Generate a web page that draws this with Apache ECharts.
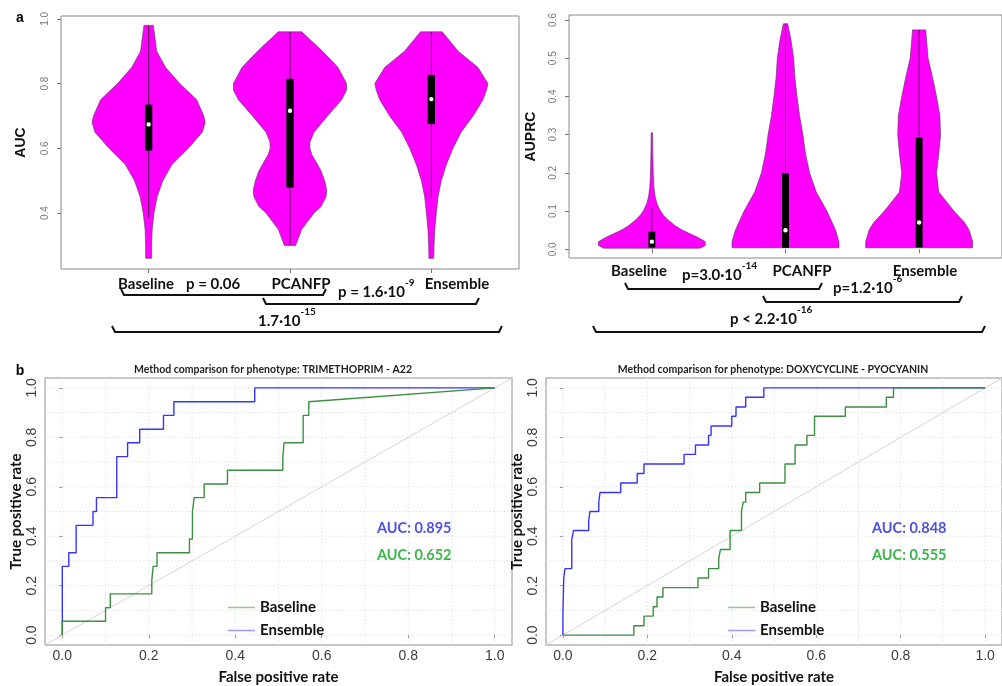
<!DOCTYPE html>
<html><head><meta charset="utf-8">
<script src="https://cdn.jsdelivr.net/npm/echarts@6/dist/echarts.min.js"></script>
<style>html,body{margin:0;padding:0;background:#fff}#c{width:1002px;height:686px}</style>
</head><body><div id="c"></div>
<script>
// ---------- DATA ----------
const categories = ['Baseline', 'PCANFP', 'Ensemble'];

// AUC violin profiles (value, half-width in category units)
const aucBaselineY  = [0.26,0.30,0.35,0.40,0.45,0.50,0.55,0.60,0.65,0.68,0.70,0.75,0.80,0.85,0.90,0.95,0.98];
const aucBaselineW  = [0.021,0.021,0.025,0.038,0.06,0.10,0.165,0.28,0.38,0.40,0.39,0.34,0.22,0.12,0.057,0.042,0.033];
const aucPcanfpY    = [0.30,0.35,0.40,0.42,0.45,0.47,0.50,0.53,0.55,0.58,0.60,0.62,0.65,0.70,0.75,0.78,0.80,0.85,0.90,0.96];
const aucPcanfpW    = [0.04,0.083,0.17,0.22,0.255,0.26,0.245,0.22,0.195,0.155,0.14,0.142,0.17,0.265,0.365,0.40,0.40,0.34,0.23,0.083];
const aucEnsembleY  = [0.26,0.30,0.35,0.40,0.45,0.50,0.55,0.60,0.65,0.70,0.75,0.78,0.80,0.85,0.90,0.96];
const aucEnsembleW  = [0.017,0.019,0.024,0.035,0.047,0.07,0.106,0.153,0.21,0.295,0.365,0.39,0.40,0.33,0.19,0.077];
const aucQ1 = [0.593, 0.479, 0.675];
const aucMedian = [0.674, 0.716, 0.752];
const aucQ3 = [0.735, 0.815, 0.827];
const aucWhiskerLow = [0.386, 0.30, 0.445];
const aucWhiskerHigh = [0.98, 0.96, 0.96];
const aucTicks = [0.4, 0.6, 0.8, 1.0];

// AUPRC violin profiles
const auprcBaselineY = [0.003,0.01,0.02,0.03,0.04,0.05,0.06,0.077,0.09,0.103,0.12,0.137,0.163,0.20,0.25,0.305];
const auprcBaselineW = [0.36,0.40,0.40,0.35,0.29,0.23,0.18,0.12,0.085,0.06,0.038,0.025,0.015,0.01,0.007,0.005];
const auprcPcanfpY   = [0.004,0.02,0.05,0.10,0.15,0.20,0.25,0.30,0.35,0.40,0.45,0.50,0.55,0.59];
const auprcPcanfpW   = [0.40,0.40,0.375,0.31,0.23,0.18,0.15,0.13,0.105,0.086,0.07,0.061,0.04,0.016];
const auprcEnsembleY = [0.004,0.02,0.05,0.07,0.10,0.15,0.20,0.25,0.30,0.35,0.40,0.45,0.50,0.574];
const auprcEnsembleW = [0.40,0.40,0.375,0.34,0.26,0.147,0.13,0.147,0.16,0.155,0.13,0.10,0.067,0.049];
const auprcQ1 = [0.005, 0.004, 0.005];
const auprcMedian = [0.02, 0.05, 0.07];
const auprcQ3 = [0.046, 0.199, 0.292];
const auprcWhiskerLow = [0.003, 0.004, 0.005];
const auprcWhiskerHigh = [0.11, 0.59, 0.574];
const auprcTicks = [0, 0.1, 0.2, 0.3, 0.4, 0.5, 0.6];

// ROC curves: TRIMETHOPRIM - A22
const rocAEnsembleFpr = [0,0,0.015,0.015,0.032,0.032,0.071,0.071,0.079,0.079,0.126,0.126,0.151,0.151,0.179,0.179,0.234,0.234,0.258,0.258,0.445,0.445,1];
const rocAEnsembleTpr = [0,0.278,0.278,0.333,0.333,0.444,0.444,0.5,0.5,0.556,0.556,0.722,0.722,0.778,0.778,0.833,0.833,0.889,0.889,0.944,0.944,1,1];
const rocABaselineFpr = [0,0,0.1,0.1,0.111,0.111,0.207,0.207,0.21,0.21,0.219,0.219,0.294,0.294,0.301,0.301,0.305,0.305,0.328,0.328,0.382,0.382,0.51,0.51,0.513,0.513,0.557,0.557,0.57,0.57,1];
const rocABaselineTpr = [0,0.056,0.056,0.111,0.111,0.167,0.167,0.222,0.222,0.278,0.278,0.333,0.333,0.389,0.389,0.5,0.5,0.556,0.556,0.611,0.611,0.667,0.667,0.722,0.722,0.778,0.778,0.889,0.889,0.944,1];
// ROC curves: DOXYCYCLINE - PYOCYANIN
const rocBEnsembleFpr = [0,0,0.002,0.002,0.005,0.005,0.021,0.021,0.025,0.025,0.061,0.061,0.064,0.064,0.085,0.085,0.088,0.088,0.137,0.137,0.176,0.176,0.192,0.192,0.287,0.287,0.314,0.314,0.345,0.345,0.351,0.351,0.4,0.4,0.41,0.41,0.433,0.433,0.476,0.476,1];
const rocBEnsembleTpr = [0,0.077,0.077,0.231,0.231,0.269,0.269,0.385,0.385,0.423,0.423,0.462,0.462,0.5,0.5,0.538,0.538,0.577,0.577,0.615,0.615,0.654,0.654,0.692,0.692,0.731,0.731,0.769,0.769,0.808,0.808,0.846,0.846,0.885,0.885,0.923,0.923,0.962,0.962,1,1];
const rocBBaselineFpr = [0,0.168,0.168,0.192,0.192,0.214,0.214,0.223,0.223,0.237,0.237,0.32,0.32,0.345,0.345,0.369,0.369,0.373,0.373,0.396,0.396,0.423,0.423,0.427,0.427,0.433,0.433,0.466,0.466,0.526,0.526,0.55,0.55,0.578,0.578,0.596,0.596,0.669,0.669,0.766,0.766,0.783,0.783,1];
const rocBBaselineTpr = [0,0,0.038,0.038,0.077,0.077,0.115,0.115,0.154,0.154,0.192,0.192,0.231,0.231,0.269,0.269,0.308,0.308,0.346,0.346,0.423,0.423,0.5,0.5,0.538,0.538,0.577,0.577,0.615,0.615,0.692,0.692,0.769,0.769,0.808,0.808,0.885,0.885,0.923,0.923,0.962,0.962,1,1];
const rocTicks = [0, 0.2, 0.4, 0.6, 0.8, 1.0];
const rocGridValues = [0,0.1,0.2,0.3,0.4,0.5,0.6,0.7,0.8,0.9,1.0];
const rocTitles = ['Method comparison for phenotype: TRIMETHOPRIM - A22', 'Method comparison for phenotype: DOXYCYCLINE - PYOCYANIN'];
const rocAucEnsemble = ['0.895', '0.848'];
const rocAucBaseline = ['0.652', '0.555'];

// ---------- HELPERS ----------
const zip = (a, b) => a.map((v, i) => [v, b[i]]);
const MAG = '#ff00ff';
const BLUE = '#3434ff', GREEN = '#3a8f40';

function violinSeries(gridIdx, profiles, q1, med, q3, wlo, whi) {
  return {
    type: 'custom', xAxisIndex: gridIdx, yAxisIndex: gridIdx, silent: true,
    data: categories.map((c, i) => [i + 1, med[i]]),
    renderItem: function (params, api) {
      const i = params.dataIndex, k = api.value(0);
      const p = profiles[i];
      const left = [], right = [];
      for (let j = 0; j < p.y.length; j++) {
        left.push(api.coord([k - p.w[j], p.y[j]]));
        right.unshift(api.coord([k + p.w[j], p.y[j]]));
      }
      const a = api.coord([k, wlo[i]]), b = api.coord([k, whi[i]]);
      const tl = api.coord([k - 0.026, q3[i]]), br = api.coord([k + 0.026, q1[i]]);
      const m = api.coord([k, med[i]]);
      return { type: 'group', children: [
        { type: 'polygon', shape: { points: left.concat(right) }, style: { fill: MAG, stroke: '#6a3a6a', lineWidth: 0.7 } },
        { type: 'line', shape: { x1: a[0], y1: a[1], x2: b[0], y2: b[1] }, style: { stroke: '#222', lineWidth: 0.8 } },
        { type: 'rect', shape: { x: tl[0], y: tl[1], width: br[0] - tl[0], height: br[1] - tl[1] }, style: { fill: '#000' } },
        { type: 'circle', shape: { cx: m[0], cy: m[1], r: 2.2 }, style: { fill: '#fff' } }
      ]};
    }
  };
}

// faint dotted grid lines at each value, drawn beneath the curves
function rocGridSeries(ax) {
  return {
    type: 'custom', xAxisIndex: ax, yAxisIndex: ax, silent: true, z: 0,
    data: rocGridValues.map(v => [v, v]),
    renderItem: function (params, api) {
      const v = api.value(0);
      const a = api.coord([v, -0.04]), b = api.coord([v, 1.04]);
      const c = api.coord([-0.04, v]), d = api.coord([1.04, v]);
      const st = { stroke: '#e3e3e3', lineWidth: 1, lineDash: [1.5, 2] };
      return { type: 'group', children: [
        { type: 'line', shape: { x1: a[0], y1: a[1], x2: b[0], y2: b[1] }, style: st },
        { type: 'line', shape: { x1: c[0], y1: c[1], x2: d[0], y2: d[1] }, style: st }
      ]};
    }
  };
}

const violinGrids = [
  { left: 61, top: 16, width: 458, height: 253 },
  { left: 569, top: 15, width: 440, height: 243 }
];
const rocGrids = [
  { left: 45, top: 378, width: 467, height: 277 },
  { left: 546, top: 378, width: 464, height: 277 }
];

const grid = violinGrids.map(g => Object.assign({ show: true, borderColor: '#8a8a8a', borderWidth: 1, backgroundColor: 'transparent' }, g))
  .concat(rocGrids.map(g => Object.assign({ show: true, borderColor: '#b5b5b5', borderWidth: 1.5, backgroundColor: 'transparent' }, g)));

function violinX(idx) {
  return { type: 'value', gridIndex: idx, min: 0.38, max: 3.62, axisLine: { show: false }, splitLine: { show: false },
    axisTick: { show: true, customValues: [1, 2, 3], length: 4, lineStyle: { color: '#777' } },
    axisLabel: { show: false } };
}
function violinY(idx, min, max, ticks, name, gap) {
  return { type: 'value', gridIndex: idx, min: min, max: max, axisLine: { show: false }, splitLine: { show: false },
    name: name, nameLocation: 'middle', nameGap: gap, nameRotate: 90,
    nameTextStyle: { fontFamily: 'Liberation Sans', fontWeight: 'bold', fontSize: 14, color: '#111' },
    axisTick: { show: true, customValues: ticks, length: 4, lineStyle: { color: '#777' } },
    axisLabel: { customValues: ticks, rotate: 90, fontSize: 10, color: '#777', fontFamily: 'Liberation Sans', margin: 11,
      formatter: v => (+v).toFixed(1) } };
}
function rocX(idx) {
  return { type: 'value', gridIndex: idx, min: -0.04, max: 1.04, axisLine: { show: false }, splitLine: { show: false },
    name: 'False positive rate', nameLocation: 'middle', nameGap: 25,
    nameTextStyle: { fontFamily: 'Lato', fontWeight: 'bold', fontSize: 15, color: '#111' },
    axisTick: { show: true, customValues: rocTicks, length: 3, lineStyle: { color: '#999' } },
    axisLabel: { customValues: rocTicks, fontSize: 14, color: '#3c3c3c', fontFamily: 'Liberation Sans', margin: 4,
      formatter: v => (+v).toFixed(1) } };
}
function rocY(idx) {
  return { type: 'value', gridIndex: idx, min: -0.04, max: 1.04, axisLine: { show: false }, splitLine: { show: false },
    name: 'True positive rate', nameLocation: 'middle', nameGap: 20, nameRotate: 90,
    nameTextStyle: { fontFamily: 'Lato', fontWeight: 'bold', fontSize: 15, color: '#111' },
    axisTick: { show: true, customValues: rocTicks, length: 3, lineStyle: { color: '#999' } },
    axisLabel: { customValues: rocTicks, rotate: 90, fontSize: 14, color: '#3c3c3c', fontFamily: 'Liberation Sans', margin: 6,
      formatter: v => (+v).toFixed(1) } };
}

const series = [
  violinSeries(0, [
    { y: aucBaselineY, w: aucBaselineW }, { y: aucPcanfpY, w: aucPcanfpW }, { y: aucEnsembleY, w: aucEnsembleW }
  ], aucQ1, aucMedian, aucQ3, aucWhiskerLow, aucWhiskerHigh),
  violinSeries(1, [
    { y: auprcBaselineY, w: auprcBaselineW }, { y: auprcPcanfpY, w: auprcPcanfpW }, { y: auprcEnsembleY, w: auprcEnsembleW }
  ], auprcQ1, auprcMedian, auprcQ3, auprcWhiskerLow, auprcWhiskerHigh)
];

const rocSets = [
  { ens: zip(rocAEnsembleFpr, rocAEnsembleTpr), base: zip(rocABaselineFpr, rocABaselineTpr) },
  { ens: zip(rocBEnsembleFpr, rocBEnsembleTpr), base: zip(rocBBaselineFpr, rocBBaselineTpr) }
];
rocSets.forEach((s, k) => {
  const ax = k + 2;
  series.push(rocGridSeries(ax));
  series.push({
    type: 'line', xAxisIndex: ax, yAxisIndex: ax, silent: true, showSymbol: false, symbol: 'none',
    data: [[-0.04, -0.04], [1.04, 1.04]], lineStyle: { color: '#d4d4d4', width: 1 }, z: 1
  });
  series.push({ name: 'Ensemble', type: 'line', xAxisIndex: ax, yAxisIndex: ax, silent: true, showSymbol: false, symbol: 'none',
    data: s.ens, lineStyle: { color: BLUE, width: 1.4 }, itemStyle: { color: BLUE }, z: 3 });
  series.push({ name: 'Baseline', type: 'line', xAxisIndex: ax, yAxisIndex: ax, silent: true, showSymbol: false, symbol: 'none',
    data: s.base, lineStyle: { color: GREEN, width: 1.4 }, itemStyle: { color: GREEN }, z: 4 });
});

// ---------- ANNOTATIONS ----------
const B = 'bold 15px Lato';
function txt(x, y, t, font, color, align) {
  return { type: 'text', x: x, y: y, z: 10, style: { text: t, font: font || B, fill: color || '#111', align: align || 'center', verticalAlign: 'middle' } };
}
// label with a superscript exponent, drawn as one rich text
function pText(x, y, main, sup) {
  return { type: 'text', x: x, y: y, z: 10, style: {
    text: '{m|' + main + '}{s|' + sup + '}', align: 'left', verticalAlign: 'middle',
    rich: {
      m: { fontFamily: 'Lato', fontWeight: 'bold', fontSize: 15, lineHeight: 28, fill: '#111' },
      s: { fontFamily: 'Lato', fontWeight: 'bold', fontSize: 10, verticalAlign: 'top', fill: '#111' }
    } } };
}
function bracket(x1, x2, y) {
  return { type: 'polyline', shape: { points: [[x1, y - 6], [x1 + 3, y], [x2 - 3, y], [x2, y - 6]] }, style: { stroke: '#111', lineWidth: 2, fill: null } };
}
const graphic = [
  txt(20, 18, 'a', 'bold 14px Liberation Sans', '#000'),
  txt(20, 371, 'b', 'bold 14px Liberation Sans', '#000'),
  // AUC panel labels
  txt(146, 284, categories[0]), txt(301, 284, categories[1]), txt(457, 284, categories[2]),
  txt(186, 284, 'p = 0.06', B, '#111', 'left'),
  pText(338, 292, 'p = 1.6·10', '-9'),
  bracket(121, 326, 295), bracket(263, 479, 304),
  pText(258, 321, '1.7·10', '-15'),
  bracket(112, 502, 332),
  // AUPRC panel labels
  txt(639, 271, categories[0]), txt(802, 271, categories[1]), txt(925, 271, categories[2]),
  pText(682, 275, 'p=3.0·10', '-14'),
  bracket(625, 822, 289),
  pText(833, 288, 'p=1.2·10', '-6'),
  bracket(763, 962, 302),
  pText(730, 319, 'p < 2.2·10', '-16'),
  bracket(593, 985, 332),
  // ROC titles and AUC text
  txt(273, 370, rocTitles[0], 'bold 10.5px Lato', '#222'),
  txt(773, 370, rocTitles[1], 'bold 10.5px Lato', '#222'),
  txt(377, 528, 'AUC: ' + rocAucEnsemble[0], 'bold 14.5px Lato', '#4f4fe0', 'left'),
  txt(377, 555, 'AUC: ' + rocAucBaseline[0], 'bold 14.5px Lato', '#3cb44b', 'left'),
  txt(872, 528, 'AUC: ' + rocAucEnsemble[1], 'bold 14.5px Lato', '#4f4fe0', 'left'),
  txt(872, 555, 'AUC: ' + rocAucBaseline[1], 'bold 14.5px Lato', '#3cb44b', 'left')
];

function legendAt(left) {
  return { left: left, top: 600, padding: 0, orient: 'vertical', itemGap: 8, itemWidth: 27, itemHeight: 1.5, icon: 'rect',
    selectedMode: false, textStyle: { fontFamily: 'Lato', fontWeight: 'bold', fontSize: 15, color: '#111' },
    data: [{ name: 'Baseline', itemStyle: { color: '#8cc98c' } }, { name: 'Ensemble', itemStyle: { color: '#9a9aff' } }] };
}

const chart = echarts.init(document.getElementById('c'), null, { renderer: 'canvas' });
chart.setOption({
  animation: false,
  backgroundColor: '#fff',
  grid: grid,
  xAxis: [violinX(0), violinX(1), rocX(2), rocX(3)],
  yAxis: [violinY(0, 0.227, 1.009, aucTicks, 'AUC', 33), violinY(1, -0.0228, 0.613, auprcTicks, 'AUPRC', 31), rocY(2), rocY(3)],
  legend: [legendAt(228), legendAt(728)],
  series: series,
  graphic: graphic
});
</script></body></html>
